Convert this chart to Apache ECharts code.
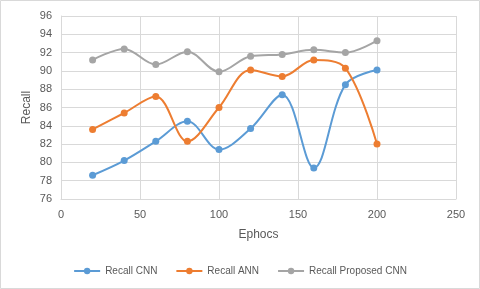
<!DOCTYPE html>
<html><head><meta charset="utf-8">
<script src="https://cdn.jsdelivr.net/npm/echarts@6/dist/echarts.min.js"></script>
<style>html,body{margin:0;padding:0;background:#fff}#c{width:480px;height:289px}</style>
</head><body><div id="c"></div>
<script>
const epochs = [20, 40, 60, 80, 100, 120, 140, 160, 180, 200];
const recallCNN = [78.6, 80.2, 82.3, 84.5, 81.4, 83.7, 87.4, 79.4, 88.5, 90.1];
const recallANN = [83.6, 85.4, 87.2, 82.3, 86.0, 90.1, 89.4, 91.2, 90.3, 82.0];
const recallProposed = [91.2, 92.4, 90.7, 92.1, 89.9, 91.6, 91.8, 92.3, 92.0, 93.3];
const seriesNames = ['Recall CNN', 'Recall ANN', 'Recall Proposed CNN'];
const colors = ['#5B9BD5', '#ED7D31', '#A5A5A5'];

const chart = echarts.init(document.getElementById('c'));
const font = 'Liberation Sans, Arial, sans-serif';
function mk(name, vals, color) {
  return {
    name: name, type: 'line', smooth: 0.35,
    data: epochs.map((e, i) => [e, vals[i]]),
    symbol: 'circle', symbolSize: 7,
    itemStyle: { color: color },
    lineStyle: { color: color, width: 2 }
  };
}
chart.setOption({
  animation: false,
  graphic: [{ type: 'rect', shape: { x: 0.5, y: 0.5, width: 479, height: 288 }, style: { fill: 'none', stroke: '#d9d9d9', lineWidth: 1 } }],
  grid: { left: 61, right: 24, top: 16, bottom: 90 },
  xAxis: {
    type: 'value', min: 0, max: 250, interval: 50,
    name: 'Ephocs', nameLocation: 'middle', nameGap: 30, nameMoveOverlap: false,
    nameTextStyle: { color: '#595959', fontSize: 12, fontFamily: font },
    axisLine: { show: true, lineStyle: { color: '#d9d9d9' } },
    axisTick: { show: false },
    axisLabel: { color: '#595959', fontSize: 11, fontFamily: font, margin: 10 },
    splitLine: { show: true, lineStyle: { color: '#d9d9d9' } }
  },
  yAxis: {
    type: 'value', min: 76, max: 96, interval: 2,
    name: 'Recall', nameLocation: 'middle', nameGap: 28, nameRotate: 90, nameMoveOverlap: false,
    nameTextStyle: { color: '#595959', fontSize: 12, fontFamily: font },
    axisLine: { show: true, lineStyle: { color: '#d9d9d9' } },
    axisTick: { show: false },
    axisLabel: { color: '#595959', fontSize: 11, fontFamily: font, margin: 9 },
    splitLine: { show: true, lineStyle: { color: '#d9d9d9' } }
  },
  legend: {
    bottom: 8, left: 'center', itemGap: 18, itemWidth: 26, itemHeight: 8,
    textStyle: { color: '#595959', fontSize: 10, fontFamily: font },
    data: seriesNames
  },
  series: [
    mk(seriesNames[0], recallCNN, colors[0]),
    mk(seriesNames[1], recallANN, colors[1]),
    mk(seriesNames[2], recallProposed, colors[2])
  ]
});
</script></body></html>
